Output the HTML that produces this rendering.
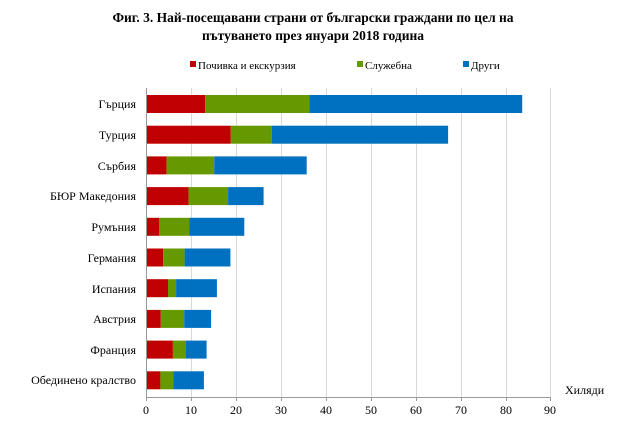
<!DOCTYPE html>
<html><head><meta charset="utf-8"><style>body{margin:0;background:#fff}</style></head><body>
<svg width="626" height="440" xmlns="http://www.w3.org/2000/svg" font-family="Liberation Serif, serif">
<text x="313" y="22" text-anchor="middle" font-size="13.5" font-weight="bold">Фиг. 3. Най-посещавани страни от български граждани по цел на</text>
<text x="313" y="40" text-anchor="middle" font-size="13.5" font-weight="bold">пътуването през януари 2018 година</text>
<g font-size="11">
<rect x="190" y="61" width="6" height="6" fill="#c00000"/><text x="198" y="69">Почивка и екскурзия</text>
<rect x="357" y="61" width="6" height="6" fill="#669900"/><text x="365" y="69">Служебна</text>
<rect x="463" y="61" width="6" height="6" fill="#0070c0"/><text x="471" y="69">Други</text>
</g>
<g stroke="#d9d9d9" stroke-width="1">
<line x1="191.5" y1="88" x2="191.5" y2="397"/><line x1="236.5" y1="88" x2="236.5" y2="397"/><line x1="281.5" y1="88" x2="281.5" y2="397"/><line x1="326.5" y1="88" x2="326.5" y2="397"/><line x1="371.5" y1="88" x2="371.5" y2="397"/><line x1="416.5" y1="88" x2="416.5" y2="397"/><line x1="461.5" y1="88" x2="461.5" y2="397"/><line x1="506.5" y1="88" x2="506.5" y2="397"/><line x1="550.5" y1="88" x2="550.5" y2="397"/>
</g>
<g>
<rect x="146" y="95" width="59.3" height="18" fill="#c00000"/><rect x="205.3" y="95" width="104.1" height="18" fill="#669900"/><rect x="309.4" y="95" width="212.8" height="18" fill="#0070c0"/>
<rect x="146" y="125.7" width="84.8" height="18" fill="#c00000"/><rect x="230.8" y="125.7" width="40.9" height="18" fill="#669900"/><rect x="271.7" y="125.7" width="176.4" height="18" fill="#0070c0"/>
<rect x="146" y="156.4" width="20.6" height="18" fill="#c00000"/><rect x="166.6" y="156.4" width="47.6" height="18" fill="#669900"/><rect x="214.2" y="156.4" width="92.5" height="18" fill="#0070c0"/>
<rect x="146" y="187.1" width="42.6" height="18" fill="#c00000"/><rect x="188.6" y="187.1" width="39.5" height="18" fill="#669900"/><rect x="228.1" y="187.1" width="35.5" height="18" fill="#0070c0"/>
<rect x="146" y="217.8" width="13" height="18" fill="#c00000"/><rect x="159" y="217.8" width="30.5" height="18" fill="#669900"/><rect x="189.5" y="217.8" width="54.8" height="18" fill="#0070c0"/>
<rect x="146" y="248.5" width="17.1" height="18" fill="#c00000"/><rect x="163.1" y="248.5" width="21.5" height="18" fill="#669900"/><rect x="184.6" y="248.5" width="45.8" height="18" fill="#0070c0"/>
<rect x="146" y="279.2" width="22" height="18" fill="#c00000"/><rect x="168" y="279.2" width="8.1" height="18" fill="#669900"/><rect x="176.1" y="279.2" width="40.8" height="18" fill="#0070c0"/>
<rect x="146" y="309.9" width="14.8" height="18" fill="#c00000"/><rect x="160.8" y="309.9" width="23.4" height="18" fill="#669900"/><rect x="184.2" y="309.9" width="26.9" height="18" fill="#0070c0"/>
<rect x="146" y="340.6" width="26.9" height="18" fill="#c00000"/><rect x="172.9" y="340.6" width="13.1" height="18" fill="#669900"/><rect x="186" y="340.6" width="20.6" height="18" fill="#0070c0"/>
<rect x="146" y="371.3" width="14.4" height="18" fill="#c00000"/><rect x="160.4" y="371.3" width="13" height="18" fill="#669900"/><rect x="173.4" y="371.3" width="30.5" height="18" fill="#0070c0"/>
</g>
<g stroke="#999" stroke-width="1">
<line x1="146.5" y1="88" x2="146.5" y2="401"/><line x1="146" y1="397.5" x2="551" y2="397.5"/>
<line x1="191.5" y1="397" x2="191.5" y2="401"/><line x1="236.5" y1="397" x2="236.5" y2="401"/><line x1="281.5" y1="397" x2="281.5" y2="401"/><line x1="326.5" y1="397" x2="326.5" y2="401"/><line x1="371.5" y1="397" x2="371.5" y2="401"/><line x1="416.5" y1="397" x2="416.5" y2="401"/><line x1="461.5" y1="397" x2="461.5" y2="401"/><line x1="506.5" y1="397" x2="506.5" y2="401"/><line x1="550.5" y1="397" x2="550.5" y2="401"/>
</g>
<g font-size="12" text-anchor="middle">
<text x="146" y="414">0</text><text x="191" y="414">10</text><text x="236" y="414">20</text><text x="281" y="414">30</text><text x="326" y="414">40</text><text x="371" y="414">50</text><text x="416" y="414">60</text><text x="461" y="414">70</text><text x="506" y="414">80</text><text x="550" y="414">90</text>
</g>
<text x="565" y="394" font-size="12">Хиляди</text>
<g font-size="12" text-anchor="end">
<text x="136" y="108">Гърция</text><text x="136" y="139">Турция</text><text x="136" y="170">Сърбия</text><text x="136" y="200">БЮР Македония</text><text x="136" y="231">Румъния</text><text x="136" y="262">Германия</text><text x="136" y="293">Испания</text><text x="136" y="323">Австрия</text><text x="136" y="354">Франция</text><text x="136" y="384">Обединено кралство</text>
</g>
</svg>
</body></html>
